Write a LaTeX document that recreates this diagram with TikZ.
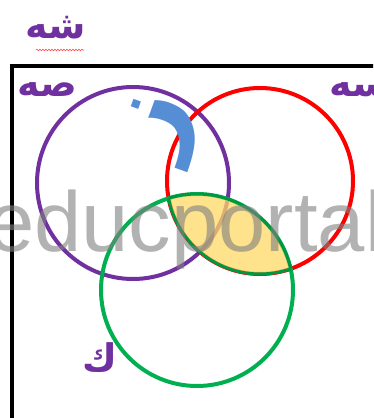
\documentclass[tikz,border=0pt]{standalone}
\usepackage{fontspec}
\newfontfamily\arabicfont[Script=Arabic]{DejaVu Sans}
\newfontfamily\wmfont{Liberation Sans}
\TeXXeTstate=1
\usetikzlibrary{decorations.pathmorphing}
\definecolor{vpurple}{HTML}{7030A0}
\definecolor{vred}{HTML}{FF0000}
\definecolor{vgreen}{HTML}{00B050}
\definecolor{vyellow}{HTML}{FFD966}
\definecolor{vblue}{HTML}{558ED5}
\tikzset{
  ring/.style={line width=4pt, draw=#1},
  arlabel/.style={text=vpurple, font=\arabicfont\bfseries\fontsize{38}{42}\selectfont, inner sep=0pt},
}
\begin{document}
\begin{tikzpicture}[x=1pt,y=-1pt]
\clip (0,0) rectangle (373,418);
\fill[white] (0,0) rectangle (373,418);
% frame
\draw[line width=4pt] (12,66) rectangle (420,460);
% circles
\coordinate (P) at (133,183);
\coordinate (R) at (260,181);
\coordinate (G) at (197,290);
\draw[ring=vpurple] (P) circle[radius=96pt];
\draw[ring=vred] (R) circle[radius=93pt];
\draw[ring=vgreen] (G) circle[radius=96pt];
% lens red and green
\begin{scope}
  \clip (G) circle[radius=96pt];
  \fill[vyellow, opacity=0.75] (R) circle[radius=93pt];
  \draw[line width=3pt, vgreen!85!black] (R) circle[radius=93pt];
\end{scope}
\begin{scope}
  \clip (R) circle[radius=93pt];
  \draw[line width=3pt, vgreen!85!black] (G) circle[radius=96pt];
\end{scope}
% blue letter
\node[text=vblue, font=\arabicfont\bfseries\fontsize{108}{112}\selectfont, inner sep=0pt, rotate=70] (zay) at (164,126) {\beginR ز\endR};
% labels
\node[arlabel] (sh) at (56,28) {\beginR شه\endR};
\coordinate (ul1) at (36,50);
\coordinate (ul2) at (84,50);
\draw[vred!70, line width=0.6pt, decorate, decoration={snake, amplitude=0.8pt, segment length=3pt}] (ul1) -- (ul2);
\node[arlabel] (sad) at (47,90) {\beginR صه\endR};
\node[arlabel] (sin) at (360,90) {\beginR سه\endR};
\node[arlabel] (kaf) at (100,358) {\beginR ك\endR};
% watermark
\node[anchor=base west, inner sep=0pt, text=gray, text opacity=0.6, font=\wmfont\fontsize{85}{92}\selectfont] (wm) at (-13,251) {educportal};
\end{tikzpicture}
\end{document}
